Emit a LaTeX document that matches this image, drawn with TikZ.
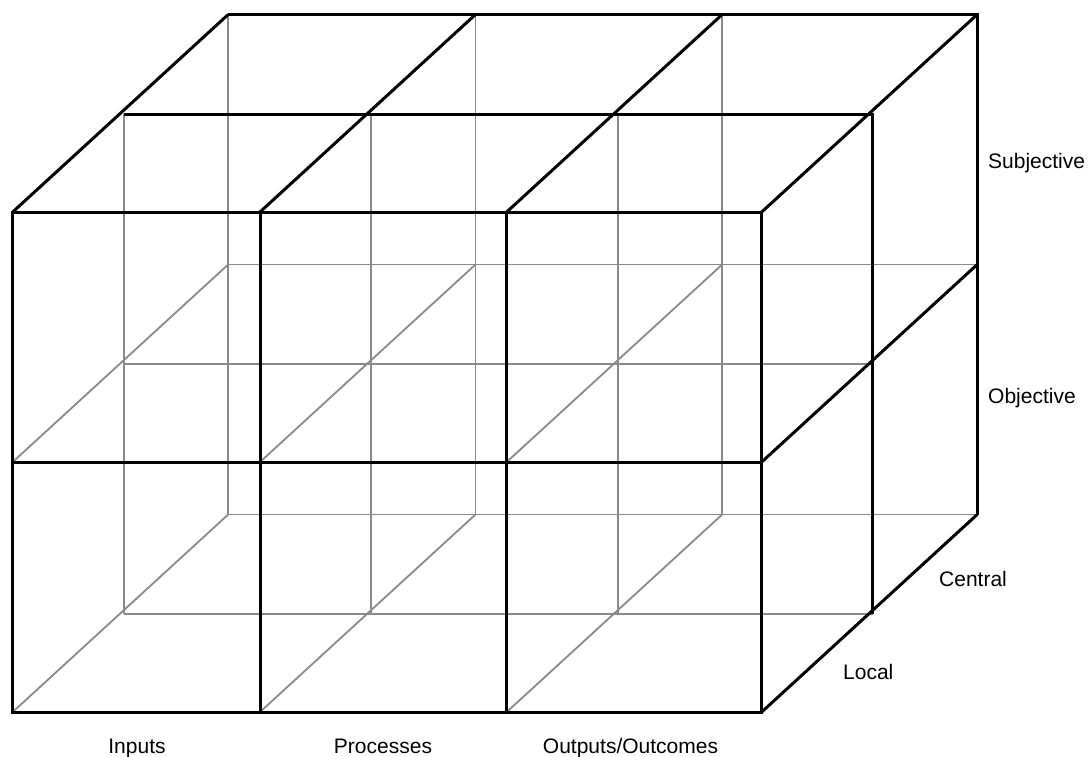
\documentclass[tikz,border=0pt]{standalone}
\usepackage{fontspec}
\setmainfont{Liberation Sans}
\definecolor{gridgray}{RGB}{138,138,138}
\begin{document}
\begin{tikzpicture}[x=1pt,y=-1pt,
  edge/.style={line width=3pt,black,line join=miter},
  inner/.style={line width=1.8pt,draw=gridgray},
  lbl/.style={font=\fontsize{21}{25}\selectfont,inner sep=0pt}]
\useasboundingbox (0,0) rectangle (1088,756);

% lattice points p<column><row><depth>
\foreach \i/\x in {0/12.7,1/260,2/506.7,3/761.7}
  \foreach \j/\y in {0/212,1/462,2/712}
    \foreach \k/\dx/\dy in {0/0/0,1/111/-98,2/215.5/-197.5}
      \coordinate (p\i\j\k) at (\x+\dx,\y+\dy);

% hidden interior lines
\foreach \k in {1,2}{
  \foreach \i in {0,1,2} \draw[inner] (p\i0\k) -- (p\i2\k);
  \foreach \j in {1,2} \draw[inner] (p0\j\k) -- (p3\j\k);
}
\foreach \i in {0,1,2}
  \foreach \j in {1,2}
    \draw[inner] (p\i\j0) -- (p\i\j2);

% front face
\draw[edge] (p000) -- (p300) -- (p320) -- (p020) -- cycle;
\foreach \i in {1,2} \draw[edge] (p\i00) -- (p\i20);
\draw[edge] (p010) -- (p310);

% top and right faces
\foreach \k in {1,2} \draw[edge] (p00\k) -- (p30\k) -- (p32\k);
\foreach \i in {0,...,3} \draw[edge] (p\i00) -- (p\i02);
\foreach \j in {1,2} \draw[edge] (p3\j0) -- (p3\j2);

% axis labels
\node[lbl,anchor=base west] (subjective) at (988,168.3) {Subjective};
\node[lbl,anchor=base west] (objective) at (988,403.3) {Objective};
\node[lbl,anchor=base west] (central) at (939,586) {Central};
\node[lbl,anchor=base west] (local) at (843,679.3) {Local};
\node[lbl,anchor=base] (inputs) at (137,753) {Inputs};
\node[lbl,anchor=base] (processes) at (383,753) {Processes};
\node[lbl,anchor=base] (outputs) at (630.5,753) {Outputs/Outcomes};
\end{tikzpicture}
\end{document}
